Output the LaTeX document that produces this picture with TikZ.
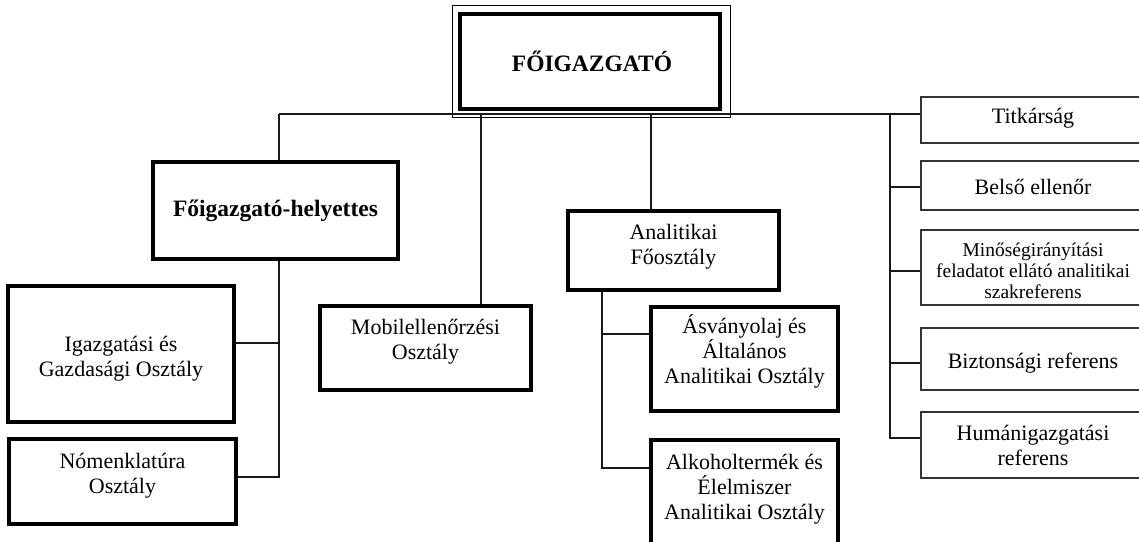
\documentclass[tikz,border=0pt]{standalone}
\usepackage{fontspec}
\setmainfont{Liberation Serif}
\begin{document}
\begin{tikzpicture}[x=1pt,y=-1pt,
  thickbox/.style={draw=black, line width=3.8pt, fill=white, inner sep=0pt},
  thinbox/.style={draw=black!80, line width=1.3pt, fill=white, inner sep=0pt, minimum width=224},
  conn/.style={draw=black!90, line width=1.3pt},
  txt/.style={align=center, inner sep=0pt, font=\fontsize{22}{25}\selectfont},
  smalltxt/.style={align=center, inner sep=0pt, font=\fontsize{19.5}{21}\selectfont},
  boldtxt/.style={align=center, inner sep=0pt, font=\bfseries\fontsize{23.5}{26}\selectfont}]
\clip (0,0) rectangle (1139,541);
\fill[white] (0,0) rectangle (1139,541);

% --- top box
\node[thickbox, line width=4.5pt, minimum width=260, minimum height=95] (top) at (590,61.5) {};
\draw[line width=1.2pt] ([shift={(-5,6)}]top.south west) rectangle ([shift={(8,-6)}]top.north east);
\node[boldtxt] (top-t) at ([xshift=2pt]top.center) {FŐIGAZGATÓ};

% --- deputy branch
\node[thickbox, minimum width=245, minimum height=97] (fh) at (275.5,210.5) {};
\node[boldtxt] (fh-t) at (fh.center) {Főigazgató-helyettes};
\node[thickbox, minimum width=226, minimum height=136] (igaz) at (121,354) {};
\node[txt] (igaz-t) at ([yshift=-5pt]igaz.center) {Igazgatási és\\Gazdasági Osztály};
\node[thickbox, minimum width=227, minimum height=85] (nom) at (122.5,481.5) {};
\node[txt] (nom-t) at ([yshift=5.5pt]nom.center) {Nómenklatúra\\Osztály};

% --- mobile
\node[thickbox, minimum width=211, minimum height=84] (mob) at (425.5,348) {};
\node[txt] (mob-t) at ([yshift=6pt]mob.center) {Mobilellenőrzési\\Osztály};

% --- analytics branch
\node[thickbox, minimum width=211, minimum height=79] (anf) at (673.5,250.5) {};
\node[txt] (anf-t) at ([yshift=3.5pt]anf.center) {Analitikai\\Főosztály};
\node[thickbox, minimum width=187, minimum height=104] (asv) at (744.5,359) {};
\node[txt] (asv-t) at ([yshift=8pt]asv.center) {Ásványolaj és\\Általános\\Analitikai Osztály};
\node[thickbox, minimum width=187, minimum height=140] (alk) at (744.5,510) {};
\node[txt] (alk-t) at ([yshift=21pt]alk.center) {Alkoholtermék és\\Élelmiszer\\Analitikai Osztály};

% --- staff boxes
\node[thinbox, minimum height=46] (tit) at (1033,120) {};
\node[txt] (tit-t) at ([yshift=2pt]tit.center) {Titkárság};
\node[thinbox, minimum height=49] (bel) at (1033,185.5) {};
\node[txt] (bel-t) at ([yshift=-1pt]bel.center) {Belső ellenőr};
\node[thinbox, minimum height=75] (min) at (1033,267.5) {};
\node[smalltxt] (min-t) at ([yshift=-3pt]min.center) {Minőségirányítási\\feladatot ellátó analitikai\\szakreferens};
\node[thinbox, minimum height=62] (biz) at (1033,359) {};
\node[txt] (biz-t) at ([yshift=-4pt]biz.center) {Biztonsági referens};
\node[thinbox, minimum height=66] (hum) at (1033,445) {};
\node[txt] (hum-t) at (hum.center) {Humánigazgatási\\referens};

% --- junctions
\coordinate (jA) at (279,114);
\coordinate (jM) at (481,114);
\coordinate (jF) at (651,114);
\coordinate (jR) at (890,114);
\coordinate (jI) at (279,343);
\coordinate (jN) at (279,477);
\coordinate (jS) at (602,334);
\coordinate (jL) at (602,468);
\coordinate (r2) at (890,187);
\coordinate (r3) at (890,271);
\coordinate (r4) at (890,363);
\coordinate (r5) at (890,438);

% --- connectors
\draw[conn] (jA) -- (tit.west |- jA);
\draw[conn] (jA) -- (jA |- fh.north);
\draw[conn] (jA |- fh.south) -- (jN) -- (nom.east |- jN);
\draw[conn] (jI) -- (igaz.east |- jI);
\draw[conn] (jM) -- (jM |- mob.north);
\draw[conn] (jF) -- (jF |- anf.north);
\draw[conn] (jS |- anf.south) -- (jL) -- (alk.west |- jL);
\draw[conn] (jS) -- (asv.west |- jS);
\draw[conn] (jR) -- (r5) -- (hum.west |- r5);
\draw[conn] (r2) -- (bel.west |- r2);
\draw[conn] (r3) -- (min.west |- r3);
\draw[conn] (r4) -- (biz.west |- r4);
\end{tikzpicture}
\end{document}
